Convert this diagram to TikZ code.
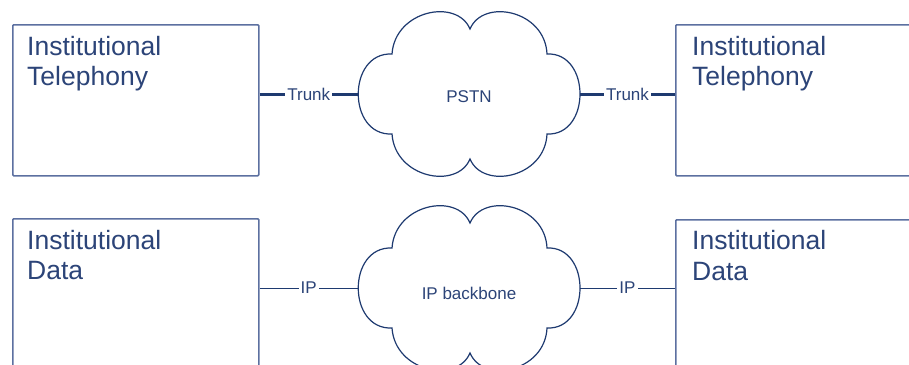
\documentclass[tikz,border=0pt]{standalone}
\usepackage{fontspec}
\setmainfont{Liberation Sans}
\definecolor{navy}{HTML}{1E3A70}
\definecolor{boxline}{HTML}{5C70A0}
\definecolor{inktext}{HTML}{2C4478}
\tikzset{
  x=1pt, y=-1pt,
  inst/.style={draw=boxline, line width=1.5pt, rounded corners=1pt, fill=white,
    anchor=north west, minimum width=246pt, inner sep=0pt},
  insttext/.style={anchor=north west, inner sep=0pt, align=left, text=inktext,
    font=\fontsize{26.5}{30.5}\selectfont},
  cloudline/.style={draw=navy, line width=1.2pt, fill=white},
  trunkline/.style={draw=navy, line width=3pt},
  ipline/.style={draw=navy, line width=1pt},
  linklabel/.style={fill=white, inner xsep=2pt, inner ysep=1pt, text=inktext,
    font=\fontsize{17}{20}\selectfont},
  netlabel/.style={text=inktext, inner sep=0pt, font=\fontsize{17}{20}\selectfont},
  netcloud/.pic={
    \path[cloudline] (-77,-40)
      .. controls (-74,-84) and (-12,-96) .. (1,-65)
      .. controls (14,-96) and (76,-84) .. (78,-40)
      .. controls (122,-42) and (122,42) .. (78,40)
      .. controls (76,84) and (14,96) .. (1,65)
      .. controls (-12,96) and (-74,84) .. (-77,40)
      .. controls (-122,42) and (-122,-42) .. cycle;
    \coordinate (-w) at (-111,0);
    \coordinate (-e) at (111,0);
  }
}
\begin{document}
\begin{tikzpicture}
\useasboundingbox (0,0) rectangle (909,364);
\clip (0,0) rectangle (909,364);

% telephony row
\node[inst, minimum height=151pt] (tl) at (12,24) {};
\node[inst, minimum height=151pt] (tr) at (675,24) {};
\node[insttext] (tltext) at (27,36) {Institutional\\Telephony};
\node[insttext] (trtext) at (692,36) {Institutional\\Telephony};
\pic (pstn) at (469,94) {netcloud};
\node[netlabel] (pstnlbl) at (469,97) {PSTN};
\draw[trunkline] (tl.east |- pstn-w) -- node[linklabel] (tlk) {Trunk} (pstn-w);
\draw[trunkline] (pstn-e) -- node[linklabel] (trk) {Trunk} (tr.west |- pstn-e);

% data row
\node[inst, minimum height=200pt] (bl) at (12,218) {};
\node[inst, minimum height=200pt] (br) at (675,219) {};
\node[insttext] (bltext) at (27,230) {Institutional\\Data};
\node[insttext] (brtext) at (692,230.5) {Institutional\\Data};
\pic (ipb) at (469,288) {netcloud};
\node[netlabel] (ipblbl) at (469,293) {IP backbone};
\draw[ipline] (bl.east |- ipb-w) -- node[linklabel] (blk) {IP} (ipb-w);
\draw[ipline] (ipb-e) -- node[linklabel] (brk) {IP} (br.west |- ipb-e);
\end{tikzpicture}
\end{document}
